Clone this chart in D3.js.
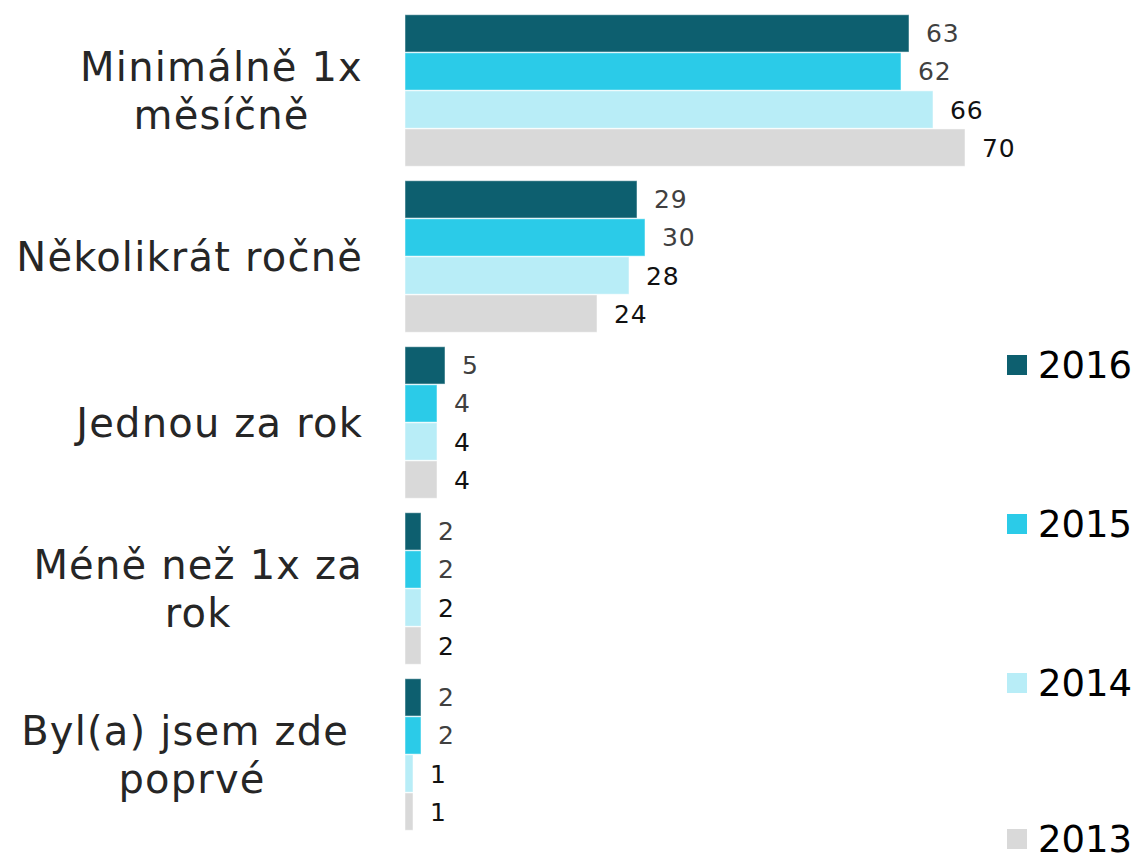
<!DOCTYPE html>
<html>
<head>
<meta charset="utf-8">
<script src="https://cdn.jsdelivr.net/npm/d3@7"></script>
<style>
  body { margin: 0; background: #fff; }
  svg { display: block; font-family: "DejaVu Sans", Verdana, sans-serif; }
</style>
</head>
<body>
<div id="chart"></div>
<script>
// chart data
const categories = ["Minimálně 1x měsíčně", "Několikrát ročně", "Jednou za rok", "Méně než 1x za rok", "Byl(a) jsem zde poprvé"];
const categoryLines = [["Minimálně 1x", "měsíčně"], ["Několikrát ročně"], ["Jednou za rok"], ["Méně než 1x za", "rok"], ["Byl(a) jsem zde ", "poprvé"]];
const years = ["2016", "2015", "2014", "2013"];
const values2016 = [63, 29, 5, 2, 2];
const values2015 = [62, 30, 4, 2, 2];
const values2014 = [66, 28, 4, 2, 1];
const values2013 = [70, 24, 4, 2, 1];

const seriesValues = [values2016, values2015, values2014, values2013];
const colors = ["#0d5f6f", "#2bcbe8", "#b8edf7", "#d9d9d9"];
const labelColors = ["#404040", "#404040", "#111", "#111"];

const width = 1135, height = 857;
const svg = d3.select("#chart").append("svg")
    .attr("width", width)
    .attr("height", height);

const x = d3.scaleLinear().domain([0, 70]).range([405, 965]);

const y = d3.scaleBand()
    .domain(categories)
    .range([7.5, 837.5])
    .paddingInner(0.078)
    .paddingOuter(0.039);

const yInner = d3.scaleBand()
    .domain(years)
    .range([0, y.bandwidth()])
    .padding(0.02);

// bars
const groups = svg.append("g")
  .selectAll("g")
  .data(categories)
  .join("g")
    .attr("transform", d => `translate(0,${y(d)})`);

groups.selectAll("rect")
  .data((d, i) => years.map((yr, s) => ({ yr, s, v: seriesValues[s][i] })))
  .join("rect")
    .attr("x", x(0))
    .attr("y", d => yInner(d.yr))
    .attr("width", d => x(d.v) - x(0))
    .attr("height", yInner.bandwidth())
    .attr("fill", d => colors[d.s])
    .attr("stroke", "#fff")
    .attr("stroke-opacity", 0.5)
    .attr("stroke-width", 1);

groups.selectAll("text")
  .data((d, i) => years.map((yr, s) => ({ yr, s, v: seriesValues[s][i] })))
  .join("text")
    .attr("x", d => x(d.v) + 17)
    .attr("y", d => yInner(d.yr) + yInner.bandwidth() / 2)
    .attr("dy", "0.36em")
    .attr("font-size", 25)
    .attr("letter-spacing", 0.8)
    .attr("fill", d => labelColors[d.s])
    .text(d => d.v);

// category labels (multi-line, centred lines, block right-aligned)
const labelRight = 363;
const lineH = 48;
categories.forEach((c, i) => {
  const lines = categoryLines[i];
  const cy = y(c) + y.bandwidth() / 2;
  const g = svg.append("g");
  const texts = lines.map((ln, k) => g.append("text")
      .attr("font-size", 40)
      .attr("letter-spacing", 1.2)
      .attr("fill", "#262626")
      .style("white-space", "pre")
      .attr("y", cy + (k - (lines.length - 1) / 2) * lineH)
      .attr("dy", "0.36em")
      .attr("text-anchor", "middle")
      .text(ln));
  const w = d3.max(texts, t => t.node().getComputedTextLength());
  texts.forEach(t => t.attr("x", labelRight - w / 2));
});

// legend
const legendY = [365, 524, 683, 839];
const legend = svg.append("g")
  .selectAll("g")
  .data(years)
  .join("g")
    .attr("transform", (d, i) => `translate(1007,${legendY[i]})`);

legend.append("rect")
    .attr("x", 0)
    .attr("y", -10)
    .attr("width", 20)
    .attr("height", 20)
    .attr("fill", (d, i) => colors[i]);

legend.append("text")
    .attr("x", 31)
    .attr("dy", "0.36em")
    .attr("font-size", 37)
    .attr("fill", "#000")
    .text(d => d);
</script>
</body>
</html>
